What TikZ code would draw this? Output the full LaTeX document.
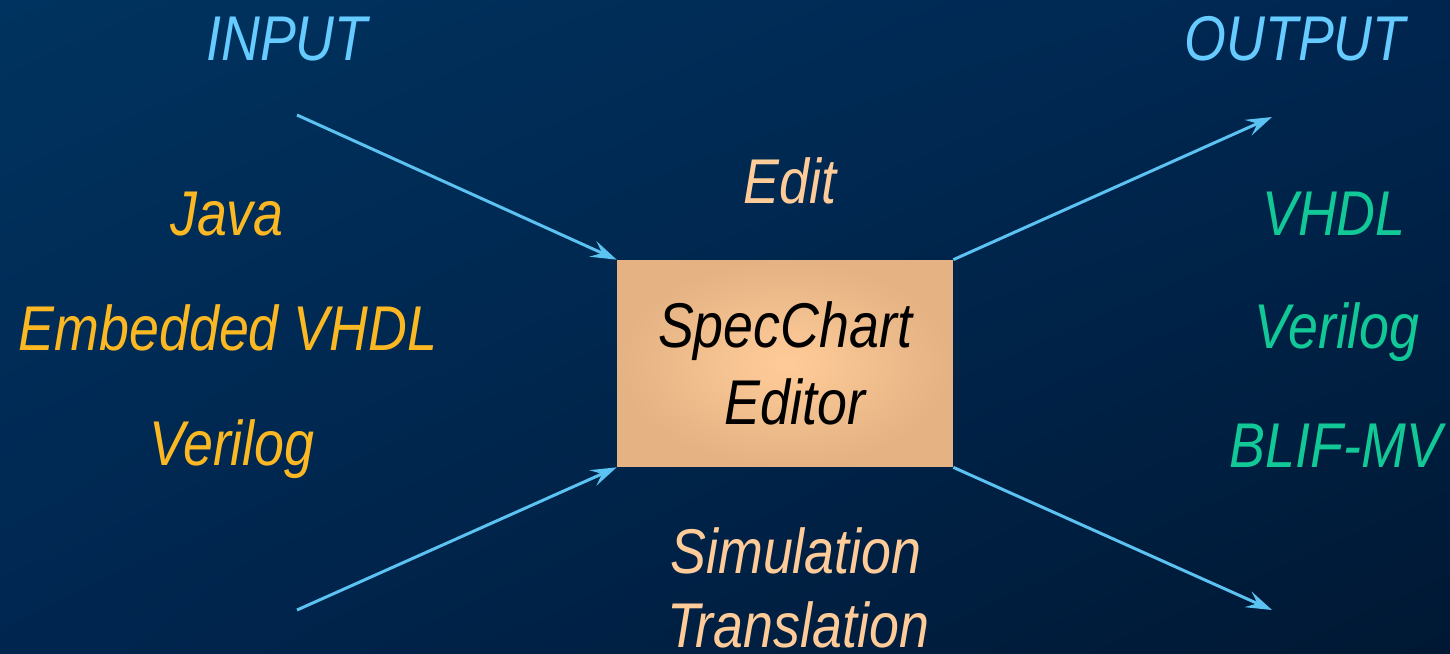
\documentclass[tikz,border=0pt]{standalone}
\usepackage{fontspec}
\setmainfont{Liberation Sans}[FakeStretch=0.85]
\usepackage{xcolor}
\usetikzlibrary{arrows.meta,shadings}

\definecolor{bgtop}{HTML}{00335F}
\definecolor{bgmid}{HTML}{002650}
\definecolor{bgbot}{HTML}{001833}
\definecolor{headblue}{HTML}{66CCFF}
\definecolor{arrowblue}{HTML}{5CC2F2}
\definecolor{ingold}{HTML}{FBB823}
\definecolor{outgreen}{HTML}{12C897}
\definecolor{peach}{HTML}{FFCC99}
\definecolor{boxedge}{HTML}{E4B283}

\tikzset{
  lbl/.style={anchor=base, font=\fontsize{36}{42}\selectfont\itshape},
  flow/.style={draw=arrowblue, line width=1.7pt,
    -{Stealth[length=0.52cm, width=0.34cm, inset=0.2cm]}},
}

\begin{document}
\begin{tikzpicture}[x=0.02cm, y=-0.02cm]
      \useasboundingbox (0,0) rectangle (1450,653);
      \shade[upper left=bgtop, upper right=bgmid, lower left=bgmid, lower right=bgbot]
        (0,0) rectangle (1450,653);

      % headings
      \node (input)  [lbl, text=headblue] at (287,60) {INPUT};
      \node (output) [lbl, text=headblue] at (1295,60) {OUTPUT};

      % input languages
      \node (java)  [lbl, text=ingold] at (227,235) {Java};
      \node (evhdl) [lbl, text=ingold] at (228,350) {Embedded VHDL};
      \node (vlogin)[lbl, text=ingold] at (232,465) {Verilog};

      % output languages
      \node (vhdl)   [lbl, text=outgreen] at (1334,235) {VHDL};
      \node (vlogout)[lbl, text=outgreen] at (1337,348) {Verilog};
      \node (blif)   [lbl, text=outgreen] at (1336,467) {BLIF-MV};

      % the editor
      \node (editor) [inner color=peach, outer color=boxedge,
        minimum width=6.72cm, minimum height=4.14cm, align=center,
        font=\fontsize{36}{44}\selectfont\itshape]
        at (785,363.5) {SpecChart\\\hspace{0.4cm}Editor};

      \node (edit) [lbl, text=peach] at (790,203) {Edit};
      \node (sim)  [lbl, text=peach] at (796,573) {Simulation};
      \node (trans)[lbl, text=peach] at (798,647) {Translation};

      \coordinate (inA)  at (297,115);
      \coordinate (inB)  at (297,610);
      \coordinate (outA) at (1272,117);
      \coordinate (outB) at (1272,610);

      \draw[flow] (inA) -- (editor.north west);
      \draw[flow] (inB) -- (editor.south west);
      \draw[flow] (editor.north east) -- (outA);
      \draw[flow] (editor.south east) -- (outB);
    \end{tikzpicture}
\end{document}
